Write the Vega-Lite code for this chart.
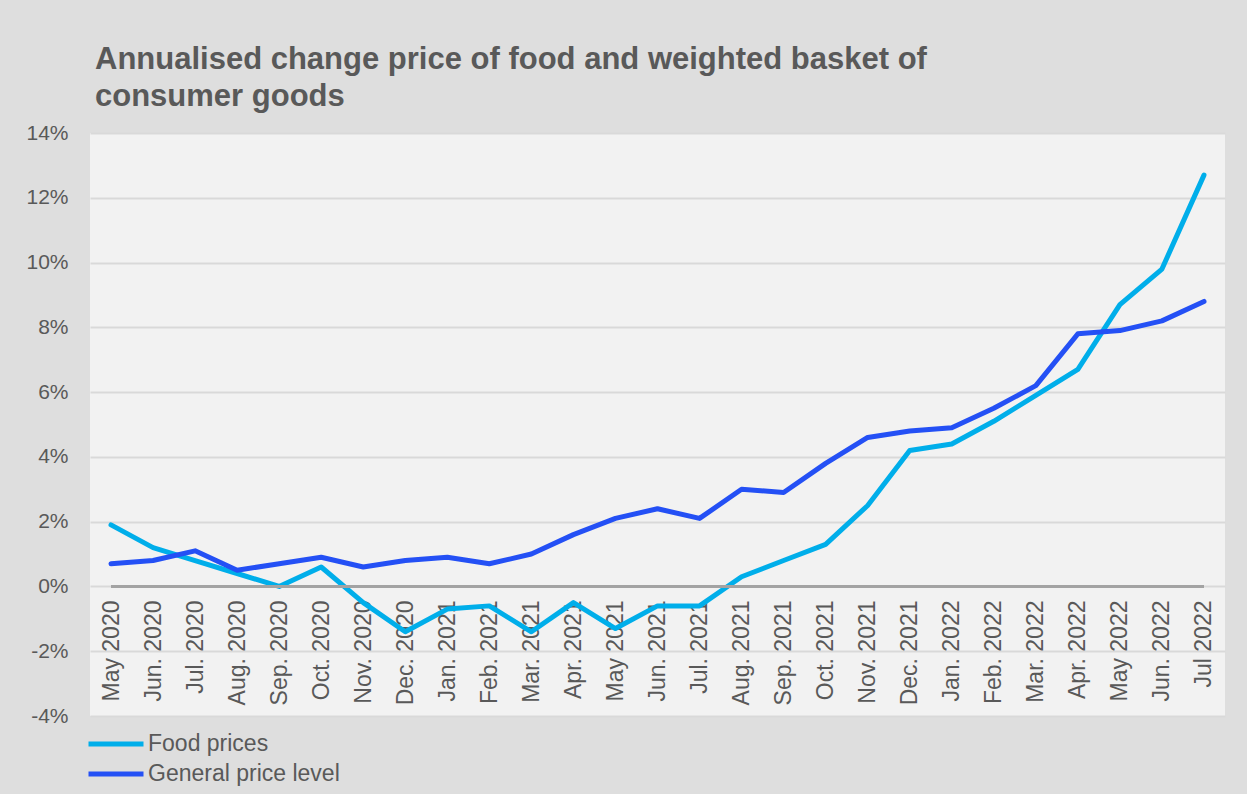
{
  "$schema": "https://vega.github.io/schema/vega-lite/v6.json",
  "width": 1135,
  "height": 583,
  "autosize": {"type": "none"},
  "padding": {"left": 90, "top": 133, "right": 22, "bottom": 78},
  "background": "#dedede",
  "config": {
    "font": "Liberation Sans",
    "view": {"fill": "#f2f2f2", "stroke": null}
  },
  "title": {
    "text": ["Annualised change price of food and weighted basket of", "consumer goods"],
    "anchor": "start",
    "frame": "group",
    "dx": 5,
    "offset": 9,
    "fontSize": 31,
    "fontWeight": "bold",
    "color": "#595959",
    "lineHeight": 37
  },
  "data": {
    "values": [
      {"month": "May 2020", "series": "Food prices", "value": 1.9},
      {"month": "Jun. 2020", "series": "Food prices", "value": 1.2},
      {"month": "Jul. 2020", "series": "Food prices", "value": 0.8},
      {"month": "Aug. 2020", "series": "Food prices", "value": 0.4},
      {"month": "Sep. 2020", "series": "Food prices", "value": 0.0},
      {"month": "Oct. 2020", "series": "Food prices", "value": 0.6},
      {"month": "Nov. 2020", "series": "Food prices", "value": -0.5},
      {"month": "Dec. 2020", "series": "Food prices", "value": -1.4},
      {"month": "Jan. 2021", "series": "Food prices", "value": -0.7},
      {"month": "Feb. 2021", "series": "Food prices", "value": -0.6},
      {"month": "Mar. 2021", "series": "Food prices", "value": -1.4},
      {"month": "Apr. 2021", "series": "Food prices", "value": -0.5},
      {"month": "May 2021", "series": "Food prices", "value": -1.3},
      {"month": "Jun. 2021", "series": "Food prices", "value": -0.6},
      {"month": "Jul. 2021", "series": "Food prices", "value": -0.6},
      {"month": "Aug. 2021", "series": "Food prices", "value": 0.3},
      {"month": "Sep. 2021", "series": "Food prices", "value": 0.8},
      {"month": "Oct. 2021", "series": "Food prices", "value": 1.3},
      {"month": "Nov. 2021", "series": "Food prices", "value": 2.5},
      {"month": "Dec. 2021", "series": "Food prices", "value": 4.2},
      {"month": "Jan. 2022", "series": "Food prices", "value": 4.4},
      {"month": "Feb. 2022", "series": "Food prices", "value": 5.1},
      {"month": "Mar. 2022", "series": "Food prices", "value": 5.9},
      {"month": "Apr. 2022", "series": "Food prices", "value": 6.7},
      {"month": "May 2022", "series": "Food prices", "value": 8.7},
      {"month": "Jun. 2022", "series": "Food prices", "value": 9.8},
      {"month": "Jul 2022", "series": "Food prices", "value": 12.7},
      {"month": "May 2020", "series": "General price level", "value": 0.7},
      {"month": "Jun. 2020", "series": "General price level", "value": 0.8},
      {"month": "Jul. 2020", "series": "General price level", "value": 1.1},
      {"month": "Aug. 2020", "series": "General price level", "value": 0.5},
      {"month": "Sep. 2020", "series": "General price level", "value": 0.7},
      {"month": "Oct. 2020", "series": "General price level", "value": 0.9},
      {"month": "Nov. 2020", "series": "General price level", "value": 0.6},
      {"month": "Dec. 2020", "series": "General price level", "value": 0.8},
      {"month": "Jan. 2021", "series": "General price level", "value": 0.9},
      {"month": "Feb. 2021", "series": "General price level", "value": 0.7},
      {"month": "Mar. 2021", "series": "General price level", "value": 1.0},
      {"month": "Apr. 2021", "series": "General price level", "value": 1.6},
      {"month": "May 2021", "series": "General price level", "value": 2.1},
      {"month": "Jun. 2021", "series": "General price level", "value": 2.4},
      {"month": "Jul. 2021", "series": "General price level", "value": 2.1},
      {"month": "Aug. 2021", "series": "General price level", "value": 3.0},
      {"month": "Sep. 2021", "series": "General price level", "value": 2.9},
      {"month": "Oct. 2021", "series": "General price level", "value": 3.8},
      {"month": "Nov. 2021", "series": "General price level", "value": 4.6},
      {"month": "Dec. 2021", "series": "General price level", "value": 4.8},
      {"month": "Jan. 2022", "series": "General price level", "value": 4.9},
      {"month": "Feb. 2022", "series": "General price level", "value": 5.5},
      {"month": "Mar. 2022", "series": "General price level", "value": 6.2},
      {"month": "Apr. 2022", "series": "General price level", "value": 7.8},
      {"month": "May 2022", "series": "General price level", "value": 7.9},
      {"month": "Jun. 2022", "series": "General price level", "value": 8.2},
      {"month": "Jul 2022", "series": "General price level", "value": 8.8}
    ]
  },
  "layer": [
    {
      "mark": {"type": "line", "strokeWidth": 5, "strokeCap": "round", "strokeJoin": "round"},
      "encoding": {
        "x": {
          "field": "month",
          "type": "ordinal",
          "sort": null,
          "scale": {"type": "point", "padding": 0.5},
          "axis": {
            "title": null,
            "labelAngle": -90,
            "labelFontSize": 23,
            "labelColor": "#595959",
            "labelPadding": 0,
            "ticks": false,
            "tickSize": 0,
            "domain": false,
            "grid": false,
            "offset": -116,
            "labelOverlap": false
          }
        },
        "y": {
          "field": "value",
          "type": "quantitative",
          "scale": {"domain": [-4, 14], "nice": false, "zero": false},
          "axis": {
            "title": null,
            "values": [-4, -2, 0, 2, 4, 6, 8, 10, 12, 14],
            "labelExpr": "datum.value + '%'",
            "labelFontSize": 21,
            "labelColor": "#595959",
            "labelPadding": 22,
            "ticks": false,
            "tickSize": 0,
            "domain": false,
            "grid": true,
            "gridColor": "#d9d9d9",
            "gridWidth": 2
          }
        },
        "color": {
          "field": "series",
          "type": "nominal",
          "scale": {"domain": ["Food prices", "General price level"], "range": ["#00aeea", "#2450f5"]},
          "legend": {
            "title": null,
            "orient": "none",
            "legendX": -4,
            "legendY": 599,
            "direction": "vertical",
            "symbolType": "stroke",
            "symbolSize": 3025,
            "symbolStrokeWidth": 5,
            "clipHeight": 24,
            "rowPadding": 6,
            "labelOffset": 2,
            "labelFontSize": 23,
            "labelLimit": 0,
            "labelColor": "#595959",
            "padding": 0
          }
        }
      }
    },
    {
      "mark": {"type": "rule", "color": "#a3a3a3", "strokeWidth": 3},
      "encoding": {
        "x": {"datum": "May 2020", "type": "ordinal"},
        "x2": {"datum": "Jul 2022"},
        "y": {"datum": 0, "type": "quantitative"}
      }
    }
  ]
}
